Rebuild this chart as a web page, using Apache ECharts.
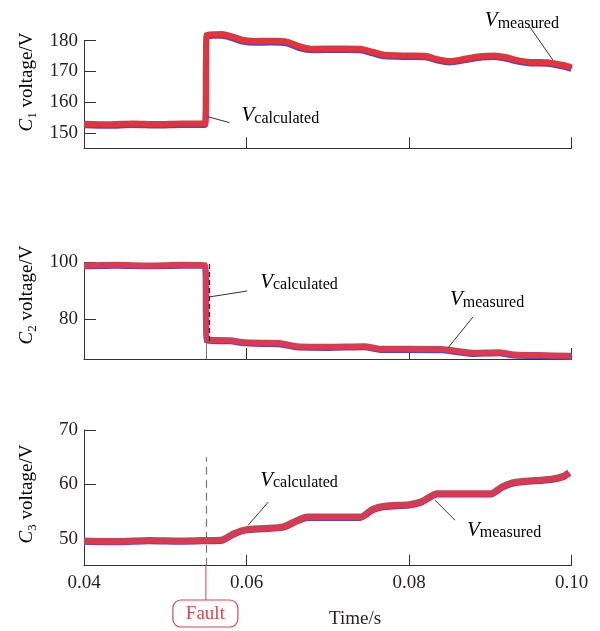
<!DOCTYPE html>
<html><head><meta charset="utf-8">
<script src="https://cdn.jsdelivr.net/npm/echarts@6/dist/echarts.min.js"></script>
<style>html,body{margin:0;padding:0;background:#fff}#c{width:600px;height:631px}</style>
</head><body><div id="c"></div>
<script>
// ---------- data ----------
const xTickLabels = ['0.04', '0.06', '0.08', '0.10'];
const faultTime = 0.055;

const c1Time = [0.040,0.043,0.046,0.049,0.052,0.0549,0.0551,0.057,0.058,0.0595,0.061,0.063,0.065,0.0665,0.068,0.072,0.074,0.0755,0.077,0.080,0.082,0.0835,0.085,0.087,0.089,0.0905,0.092,0.0935,0.095,0.097,0.098,0.099,0.100];
const c1Measured = [153.0,152.8,153.1,152.9,153.1,153.1,182.0,182.2,181.6,180.3,179.9,180.0,179.7,178.2,177.4,177.5,177.4,176.4,175.4,175.2,175.1,174.0,173.4,174.2,175.0,175.2,174.6,173.6,173.1,173.0,172.6,172.1,171.3];
const c1Calculated = [152.5,152.3,152.6,152.4,152.6,152.6,181.4,181.6,181.0,179.7,179.3,179.4,179.1,177.6,176.9,177.0,176.9,175.9,174.9,174.7,174.6,173.5,172.9,173.7,174.5,174.7,174.1,173.1,172.6,172.5,172.1,171.6,170.8];
const c1Ticks = [150, 160, 170, 180];

const c2Time = [0.040,0.044,0.048,0.052,0.0549,0.0551,0.058,0.0595,0.062,0.064,0.0665,0.070,0.0745,0.0765,0.080,0.084,0.086,0.088,0.091,0.093,0.096,0.100];
const c2Measured = [98.9,99.1,98.9,99.1,99.0,72.8,72.6,72.0,71.7,71.6,70.4,70.3,70.5,69.6,69.6,69.5,68.8,68.2,68.4,67.6,67.4,67.1];
const c2Calculated = [98.6,98.8,98.6,98.8,98.7,72.4,72.2,71.6,71.3,71.2,70.0,69.9,70.1,69.2,69.2,69.1,68.4,67.8,68.0,67.2,67.0,66.7];
const c2Ticks = [80, 100];

const c3Time = [0.040,0.044,0.048,0.052,0.055,0.057,0.0585,0.060,0.062,0.0645,0.066,0.0675,0.074,0.0755,0.077,0.080,0.0815,0.0835,0.090,0.0915,0.093,0.0975,0.099,0.0997];
const c3Measured = [49.6,49.5,49.7,49.6,49.7,49.8,51.0,51.7,51.9,52.2,53.2,54.0,54.0,55.4,56.0,56.3,56.8,58.3,58.3,59.6,60.4,61.0,61.5,62.2];
const c3Calculated = [49.45,49.35,49.55,49.45,49.55,49.65,50.85,51.55,51.75,52.05,53.05,53.85,53.85,55.25,55.85,56.15,56.65,58.15,58.15,59.45,60.25,60.85,61.35,62.05];
const c3Ticks = [50, 60, 70];

// ---------- helpers ----------
const zip = (t, v) => t.map((x, i) => [x, v[i]]);
const SERIF = '"Liberation Serif", "DejaVu Serif", serif';
const INK = '#231f20';
const BLUE = '#4d4db5';

const panels = [
  {top: 40.7, height: 107.6, min: 145, max: 180, ticks: c1Ticks, t: c1Time, m: c1Measured, c: c1Calculated, red: '#e6323a', w: 6},
  {top: 262.3, height: 96.7, min: 66, max: 100, ticks: c2Ticks, t: c2Time, m: c2Measured, c: c2Calculated, red: '#dc3a52', w: 6},
  {top: 430, height: 135.7, min: 45, max: 70, ticks: c3Ticks, t: c3Time, m: c3Measured, c: c3Calculated, red: '#d93a50', w: 6.5}
];

const grid = panels.map(p => ({left: 84, width: 487.5, top: p.top, height: p.height}));
const xAxis = panels.map((p, i) => ({
  type: 'value', gridIndex: i, min: 0.04, max: 0.10, interval: 0.02,
  axisLine: {show: true, lineStyle: {color: '#333', width: 1}},
  axisTick: {show: true, inside: true, length: 11, lineStyle: {color: '#333'}},
  splitLine: {show: false},
  axisLabel: {show: i === 2, margin: 8, fontFamily: SERIF, fontSize: 19, color: INK,
    formatter: v => xTickLabels[Math.round((v - 0.04) / 0.02)]}
}));
const yAxis = panels.map((p, i) => ({
  type: 'value', gridIndex: i, min: p.min, max: p.max,
  axisLine: {show: true, lineStyle: {color: '#333', width: 1}},
  axisTick: {show: true, inside: true, length: 12, customValues: p.ticks, lineStyle: {color: '#333'}},
  splitLine: {show: false},
  axisLabel: {customValues: p.ticks, margin: 6, fontFamily: SERIF, fontSize: 19, color: INK}
}));

const series = [];
panels.forEach((p, i) => {
  series.push({
    type: 'line', xAxisIndex: i, yAxisIndex: i, data: zip(p.t, p.c), showSymbol: false,
    smooth: 0.25,
    lineStyle: {color: BLUE, width: p.w}, z: 2, clip: false, silent: true
  });
  series.push({
    type: 'line', xAxisIndex: i, yAxisIndex: i, data: zip(p.t, p.m), showSymbol: false,
    smooth: 0.25,
    lineStyle: {color: p.red, width: p.w}, z: 3, clip: false, silent: true
  });
});
// fault markers
series.push({type: 'line', xAxisIndex: 0, yAxisIndex: 0, data: [], z: 4, silent: true,
  markLine: {symbol: 'none', silent: true, label: {show: false},
    lineStyle: {color: '#333', width: 1, type: 'solid'},
    data: [[{coord: [faultTime, 145]}, {coord: [faultTime, 182]}]]}});
series.push({type: 'line', xAxisIndex: 1, yAxisIndex: 1, data: [], z: 4, silent: true,
  markLine: {symbol: 'none', silent: true, label: {show: false},
    data: [
      [{coord: [faultTime, 66], lineStyle: {color: '#777', width: 1, type: 'solid'}}, {coord: [faultTime, 72.3]}],
      [{coord: [faultTime + 0.0004, 72.3], lineStyle: {color: '#222', width: 1.2, type: [5, 3]}}, {coord: [faultTime + 0.0004, 99.5]}]
    ]}});
series.push({type: 'line', xAxisIndex: 2, yAxisIndex: 2, data: [], z: 4, silent: true,
  markLine: {symbol: 'none', silent: true, label: {show: false},
    lineStyle: {color: '#777', width: 1.2, type: [8, 5]},
    data: [[{coord: [faultTime, 45]}, {coord: [faultTime, 65]}]]}});

const chart = echarts.init(document.getElementById('c'), null, {renderer: 'canvas'});
chart.setOption({animation: false, backgroundColor: '#fff', grid, xAxis, yAxis, series});

// ---------- annotations ----------
const annotations = [
  {g: 0, t: 0.0552, v: 155.3, line: [22, 6], text: [34, -1], sub: 'calculated'},
  {g: 0, t: 0.0977, v: 173.75, line: [-23, -33], text: [-68, -39], sub: 'measured'},
  {g: 1, t: 0.0554, v: 87.8, line: [38, -6], text: [51, -15], sub: 'calculated'},
  {g: 1, t: 0.0848, v: 69.9, line: [25, -31], text: [2, -48], sub: 'measured'},
  {g: 2, t: 0.0602, v: 52.46, line: [20, -23], text: [12, -45], sub: 'calculated'},
  {g: 2, t: 0.0832, v: 57.07, line: [20, 20], text: [32, 30], sub: 'measured'}
];
const labelRich = {
  v: {fontFamily: SERIF, fontStyle: 'italic', fontSize: 21, lineHeight: 22, verticalAlign: 'middle', color: INK},
  s: {fontFamily: SERIF, fontSize: 16, lineHeight: 16, verticalAlign: 'bottom', color: INK}
};
const graphic = [];
annotations.forEach(a => {
  const [px, py] = chart.convertToPixel({xAxisIndex: a.g, yAxisIndex: a.g}, [a.t, a.v]);
  graphic.push({type: 'line', shape: {x1: px, y1: py, x2: px + a.line[0], y2: py + a.line[1]},
    style: {stroke: '#333', lineWidth: 1}, z: 10});
  graphic.push({type: 'text', x: px + a.text[0], y: py + a.text[1], z: 10,
    style: {text: '{v|V}{s|' + a.sub + '}', rich: labelRich, align: 'left', verticalAlign: 'middle'}});
});
// y-axis titles
const titleRich = {
  i: {fontFamily: SERIF, fontStyle: 'italic', fontSize: 19, lineHeight: 24, verticalAlign: 'middle', color: INK},
  s: {fontFamily: SERIF, fontSize: 13, lineHeight: 13, verticalAlign: 'bottom', color: INK},
  n: {fontFamily: SERIF, fontSize: 19, lineHeight: 24, verticalAlign: 'middle', color: INK}
};
[['1', 82], ['2', 295], ['3', 494]].forEach(([k, cy]) => {
  graphic.push({type: 'text', x: 27, y: cy, rotation: Math.PI / 2, z: 10,
    style: {text: '{i|C}{s|' + k + '}{n| voltage/V}', rich: titleRich, align: 'center', verticalAlign: 'middle'}});
});
// x-axis title
graphic.push({type: 'text', x: 355, y: 619, z: 10,
  style: {text: 'Time/s', fontFamily: SERIF, fontSize: 19, fill: INK, align: 'center', verticalAlign: 'middle'}});
// Fault box
const [fx, fy] = chart.convertToPixel({xAxisIndex: 2, yAxisIndex: 2}, [faultTime, 45]);
const FAULT = '#e0434d';
graphic.push({type: 'line', shape: {x1: fx, y1: fy, x2: fx, y2: 600}, style: {stroke: FAULT, lineWidth: 1}, z: 10});
graphic.push({type: 'rect', shape: {x: fx - 33, y: 600, width: 65, height: 27, r: 8},
  style: {fill: '#fff', stroke: FAULT, lineWidth: 1.2}, z: 10});
graphic.push({type: 'text', x: fx - 0.5, y: 614, z: 11,
  style: {text: 'Fault', fontFamily: SERIF, fontSize: 19, fill: FAULT, align: 'center', verticalAlign: 'middle'}});

chart.setOption({graphic});
</script>
</body></html>
